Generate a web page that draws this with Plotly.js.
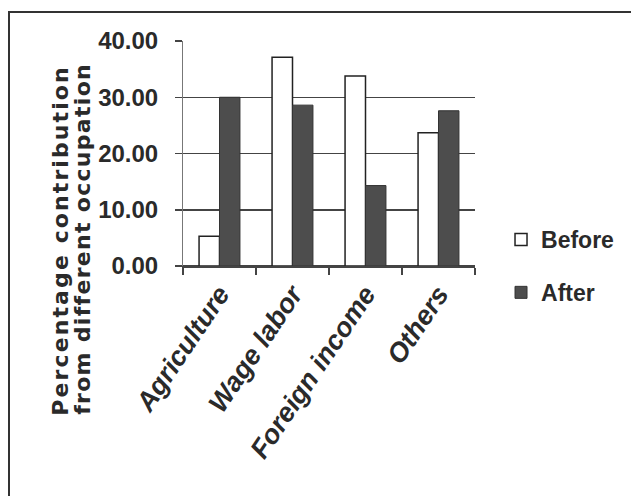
<!DOCTYPE html>
<html>
<head>
<meta charset="utf-8">
<script src="https://cdn.plot.ly/plotly-3.0.1.min.js"></script>
<style>
  html, body { margin: 0; padding: 0; background: #ffffff; }
  #wrap { position: relative; width: 631px; height: 496px; overflow: hidden; }
  #chart { width: 631px; height: 496px; }
  #frame { position: absolute; left: 8px; top: 11px; right: -10px; bottom: -10px;
           border-top: 2px solid #333333; border-left: 2px solid #333333; pointer-events: none; }
</style>
</head>
<body>
<div id="wrap">
  <div id="chart"></div>
  <div id="frame"></div>
</div>
<script>
const categories = ["Agriculture", "Wage labor", "Foreign income", "Others"];
const beforeValues = [5.3, 37.1, 33.8, 23.7];
const afterValues = [30.0, 28.6, 14.3, 27.6];
const seriesNames = ["Before", "After"];
const yTickValues = [0, 10, 20, 30, 40];
const yTitleLines = ["Percentage contribution", "from different occupation"];

const sans = "'Liberation Sans', Arial, sans-serif";
const textColor = "#2a2a2a";

const traces = [
  {
    type: "bar", name: seriesNames[0], x: categories, y: beforeValues,
    legendgroup: "b",
    marker: { color: "#ffffff", line: { color: "#222222", width: 1.5 } }
  },
  {
    type: "bar", name: seriesNames[1], x: categories, y: afterValues,
    legendgroup: "a",
    marker: { color: "#4d4d4d", line: { color: "#333333", width: 1 } }
  }
];

const L = 183, R = 145, T = 41, B = 230;
const pw = 631 - L - R, ph = 496 - T - B;
const px = v => (v - L) / pw;
const py = v => (496 - B - v) / ph;

const layout = {
  width: 631, height: 496,
  margin: { l: L, r: R, t: T, b: B, pad: 0 },
  paper_bgcolor: "#ffffff", plot_bgcolor: "#ffffff",
  barmode: "group", bargap: 0.44, bargroupgap: 0,
  showlegend: true,
  legend: {
    x: px(513), y: py(218), xanchor: "left", yanchor: "top",
    font: { family: sans, size: 23, color: textColor, weight: "bold" },
    tracegroupgap: 20, bgcolor: "rgba(0,0,0,0)", traceorder: "grouped"
  },
  xaxis: {
    type: "category",
    showline: true, linecolor: "#444444", linewidth: 1.5,
    ticks: "outside", tickson: "boundaries", ticklen: 7, tickcolor: "#444444", tickwidth: 1.5,
    tickangle: -56,
    tickfont: { family: sans, size: 27, color: textColor, weight: "bold", style: "italic" },
    showgrid: false, fixedrange: true
  },
  yaxis: {
    range: [0, 40], tickvals: yTickValues, tickformat: ".2f",
    showline: true, linecolor: "#777777", linewidth: 1,
    ticks: "outside", ticklen: 7, tickcolor: "#444444", tickwidth: 1.5,
    showgrid: true, gridcolor: "#444444", gridwidth: 1.5,
    zeroline: true, zerolinecolor: "#444444", zerolinewidth: 1.5,
    ticklabelstandoff: 12,
    tickfont: { family: sans, size: 24, color: textColor, weight: "bold" },
    fixedrange: true
  },
  annotations: [
    {
      xref: "paper", yref: "paper", x: px(55), y: py(241), xanchor: "center", yanchor: "middle",
      textangle: -90, showarrow: false,
      text: '<span style="letter-spacing:2.1px">' + yTitleLines[0] + '</span>',
      font: { family: "'DejaVu Sans', sans-serif", size: 22, color: textColor, weight: "bold" }
    },
    {
      xref: "paper", yref: "paper", x: px(78), y: py(239), xanchor: "center", yanchor: "middle",
      textangle: -90, showarrow: false,
      text: '<span style="letter-spacing:1.3px">' + yTitleLines[1] + '</span>',
      font: { family: "'DejaVu Sans', sans-serif", size: 22, color: textColor, weight: "bold" }
    }
  ]
};

Plotly.newPlot("chart", traces, layout, { displayModeBar: false, staticPlot: true });
</script>
</body>
</html>
